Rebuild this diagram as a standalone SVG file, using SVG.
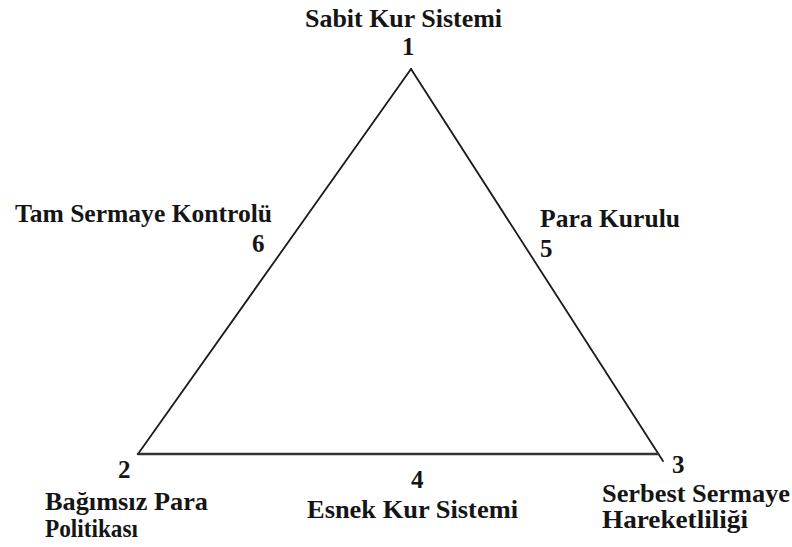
<svg xmlns="http://www.w3.org/2000/svg" width="792" height="547" viewBox="0 0 792 547">
<style>
.t{font-family:"Liberation Serif",serif;font-weight:bold;font-size:25px;fill:#151515}
.e{stroke:#1a1a1a;stroke-width:1.8;fill:none;stroke-linecap:round}
</style>
<rect width="792" height="547" fill="#ffffff"/>
<g id="connectors">
<line class="e" x1="411" y1="69" x2="138" y2="454"/>
<line class="e" x1="411" y1="69" x2="663" y2="461"/>
<line class="e" x1="138" y1="454" x2="658" y2="454" style="stroke:#333;stroke-width:2.6"/>
</g>
<g id="node1">
<text class="t" x="305" y="27" textLength="197" lengthAdjust="spacingAndGlyphs">Sabit Kur Sistemi</text>
<text class="t" x="402" y="55">1</text>
</g>
<g id="node6">
<text class="t" x="15" y="222" textLength="257" lengthAdjust="spacingAndGlyphs">Tam Sermaye Kontrolü</text>
<text class="t" x="252" y="252">6</text>
</g>
<g id="node5">
<text class="t" x="540" y="227" textLength="140" lengthAdjust="spacingAndGlyphs">Para Kurulu</text>
<text class="t" x="540" y="257">5</text>
</g>
<g id="node2">
<text class="t" x="118" y="478">2</text>
<text class="t" x="45" y="510" textLength="163" lengthAdjust="spacingAndGlyphs">Bağımsız Para</text>
<text class="t" x="45" y="537" textLength="93" lengthAdjust="spacingAndGlyphs">Politikası</text>
</g>
<g id="node4">
<text class="t" x="411" y="488">4</text>
<text class="t" x="307" y="518" textLength="211" lengthAdjust="spacingAndGlyphs">Esnek Kur Sistemi</text>
</g>
<g id="node3">
<text class="t" x="672" y="473">3</text>
<text class="t" x="602" y="502" textLength="188" lengthAdjust="spacingAndGlyphs">Serbest Sermaye</text>
<text class="t" x="602" y="528" textLength="146" lengthAdjust="spacingAndGlyphs">Hareketliliği</text>
</g>
</svg>
